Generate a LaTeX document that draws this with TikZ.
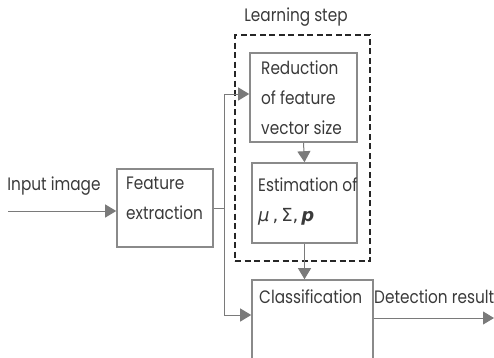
\documentclass[tikz,border=0pt]{standalone}
\usepackage{fontspec}
\setmainfont{Poppins}[FakeStretch=0.85]
\newfontfamily\greekfont{DejaVu Sans}
\usetikzlibrary{arrows.meta}
\definecolor{linegray}{HTML}{7A7A7A}
\definecolor{boxgray}{HTML}{8A8A8A}
\definecolor{inkgray}{HTML}{3A3A3A}
\tikzset{
  stage/.style={draw=boxgray, line width=1.6pt, inner sep=0pt, text=inkgray},
  label/.style={inner sep=0pt, text=inkgray, font=\fontsize{18}{30}\selectfont},
  flow/.style={draw=linegray, line width=1pt, -{Triangle[length=11pt,width=13pt]}, color=linegray},
  link/.style={draw=linegray, line width=1pt},
  group/.style={draw=black!85, line width=2.4pt, dash pattern=on 6pt off 3.5pt, inner sep=0pt}
}
\begin{document}
\begin{tikzpicture}[x=1pt,y=-1pt]
  \useasboundingbox (0,0) rectangle (494,357);
  \clip (0,0) rectangle (494,357);
  % learning group and its title
  \node[group, minimum width=135pt, minimum height=226pt] (learn) at (302.5,148) {};
  \node[label] (learntitle) at (296,17) {Learning step};
  % processing stages
  \node[stage, minimum width=96pt, minimum height=78pt] (feat) at (165,208) {};
  \node[label, align=left, anchor=west] (feattxt) at (126,198) {Feature\\extraction};
  \node[stage, minimum width=107pt, minimum height=89pt] (red) at (303.5,97.5) {};
  \node[label, align=left, anchor=west] (redtxt) at (261,98) {Reduction\\of feature\\vector size};
  \node[stage, minimum width=105pt, minimum height=80pt] (est) at (304.5,203) {};
  \node[label, align=left, anchor=west] (esttxt) at (258,201) {Estimation of\\{\greekfont{\itshape μ}\,,\,Σ,\,{\itshape\bfseries p}}};
  \node[stage, minimum width=121pt, minimum height=84pt] (cls) at (312.5,322) {};
  \node[label, anchor=west] (clstxt) at (259,297) {Classification};
  % input and output
  \node[label] (inlbl) at (54,186) {Input image};
  \node[label, anchor=west] (outlbl) at (374,297) {Detection result};
  \coordinate (src) at (8,211);
  \coordinate (sink) at (494,318);
  \coordinate (fork) at (224,208);
  \coordinate (forkup) at (224,94);
  \coordinate (forkdown) at (224,315);
  % connectors
  \draw[flow] (src) -- (feat.west |- src);
  \draw[link] (feat.east |- fork) -- (fork);
  \draw[link] (forkup) -- (forkdown);
  \draw[flow] (forkup) -- (red.west |- forkup);
  \draw[flow] (forkdown) -- (cls.west |- forkdown);
  \draw[flow] (red.south) -- (est.north);
  \draw[flow] (est.south) -- (cls.north -| est.south);
  \draw[flow] (cls.east |- sink) -- (sink);
\end{tikzpicture}
\end{document}
